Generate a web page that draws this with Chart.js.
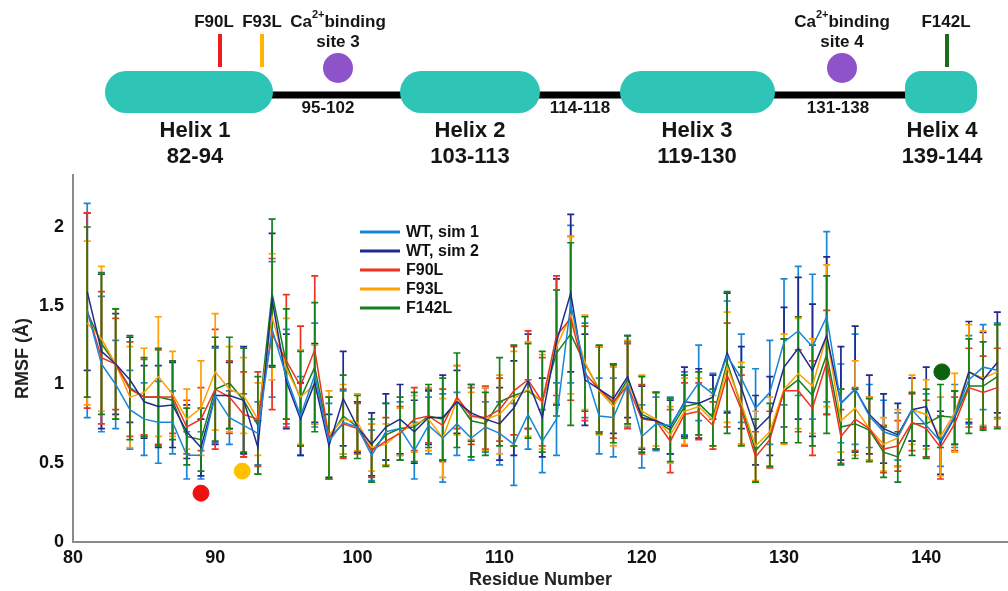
<!DOCTYPE html>
<html>
<head>
<meta charset="utf-8">
<title>RMSF per residue</title>
<script src="https://cdn.jsdelivr.net/npm/chart.js@4.4.1/dist/chart.umd.min.js"></script>
<style>
    html, body { margin: 0; padding: 0; background: #fff; overflow: hidden; }
    #wrap { position: relative; width: 1008px; height: 591px; }
    #wrap canvas { display: block; }
</style>
</head>
<body>
<div id="wrap"><canvas id="rmsf-chart"></canvas></div>
<script>
// residue numbers on the x axis
const residues = [81, 82, 83, 84, 85, 86, 87, 88, 89, 90, 91, 92, 93, 94, 95, 96, 97, 98, 99, 100,
    101, 102, 103, 104, 105, 106, 107, 108, 109, 110, 111, 112, 113, 114, 115, 116, 117, 118, 119, 120,
    121, 122, 123, 124, 125, 126, 127, 128, 129, 130, 131, 132, 133, 134, 135, 136, 137, 138, 139, 140,
    141, 142, 143, 144, 145];

const wtSim1 = [1.47, 1.13, 1.00, 0.84, 0.78, 0.76, 0.76, 0.55, 0.55, 0.93, 0.79, 0.74, 0.69, 1.35, 1.05, 0.80, 1.06, 0.64, 0.76, 0.73,
    0.55, 0.70, 0.72, 0.58, 0.74, 0.66, 0.75, 0.66, 0.73, 0.69, 0.62, 0.81, 0.64, 0.78, 1.51, 1.09, 0.80, 0.79, 1.00, 0.67,
    0.75, 0.74, 0.88, 1.01, 0.94, 1.18, 1.04, 0.85, 0.95, 1.27, 1.34, 1.24, 1.43, 0.88, 0.97, 0.80, 0.70, 0.67, 0.84, 0.74,
    0.64, 0.80, 1.03, 1.11, 1.09];
const wtSim1Err = [0.68, 0.43, 0.28, 0.25, 0.23, 0.26, 0.20, 0.15, 0.15, 0.30, 0.17, 0.20, 0.20, 0.43, 0.30, 0.25, 0.33, 0.24, 0.20, 0.16,
    0.16, 0.18, 0.17, 0.18, 0.18, 0.28, 0.20, 0.14, 0.16, 0.20, 0.26, 0.22, 0.20, 0.23, 0.50, 0.30, 0.24, 0.25, 0.27, 0.20,
    0.17, 0.18, 0.20, 0.24, 0.13, 0.35, 0.28, 0.25, 0.33, 0.40, 0.41, 0.46, 0.54, 0.25, 0.35, 0.20, 0.20, 0.15, 0.20, 0.20,
    0.16, 0.20, 0.28, 0.27, 0.30];

const wtSim2 = [1.59, 1.21, 1.13, 1.03, 0.89, 0.86, 0.87, 0.70, 0.60, 0.93, 0.93, 0.90, 0.60, 1.54, 1.02, 0.78, 1.01, 0.61, 0.91, 0.73,
    0.62, 0.73, 0.78, 0.70, 0.79, 0.79, 0.89, 0.82, 0.78, 0.75, 0.85, 1.02, 0.79, 1.27, 1.58, 1.03, 0.97, 0.91, 1.05, 0.79,
    0.77, 0.73, 0.89, 0.88, 0.92, 1.20, 0.98, 0.71, 0.80, 1.11, 1.23, 1.09, 1.31, 0.88, 0.97, 0.81, 0.72, 0.68, 0.84, 0.86,
    0.63, 0.79, 1.08, 1.03, 1.14];
const wtSim2Err = [0.50, 0.49, 0.32, 0.27, 0.23, 0.26, 0.27, 0.17, 0.18, 0.31, 0.21, 0.34, 0.17, 0.42, 0.30, 0.23, 0.25, 0.20, 0.30, 0.16,
    0.20, 0.21, 0.22, 0.20, 0.17, 0.27, 0.20, 0.18, 0.20, 0.23, 0.30, 0.30, 0.25, 0.40, 0.50, 0.29, 0.27, 0.22, 0.26, 0.20,
    0.18, 0.17, 0.22, 0.22, 0.14, 0.38, 0.26, 0.22, 0.25, 0.38, 0.45, 0.42, 0.50, 0.36, 0.40, 0.25, 0.22, 0.20, 0.20, 0.25,
    0.20, 0.17, 0.32, 0.30, 0.32];

const f90l = [1.47, 1.17, 1.13, 0.97, 0.92, 0.92, 0.92, 0.73, 0.78, 0.97, 0.92, 0.81, 0.78, 1.32, 1.15, 0.99, 1.22, 0.66, 0.75, 0.72,
    0.58, 0.64, 0.69, 0.78, 0.80, 0.74, 0.92, 0.80, 0.79, 0.84, 0.96, 1.03, 0.89, 1.31, 1.42, 1.07, 0.97, 0.89, 0.99, 0.78,
    0.77, 0.64, 0.81, 0.83, 0.74, 1.06, 0.84, 0.54, 0.65, 0.96, 0.96, 0.85, 1.14, 0.67, 0.78, 0.72, 0.59, 0.61, 0.76, 0.72,
    0.60, 0.75, 0.98, 0.95, 0.98];
const f90lErr = [0.62, 0.42, 0.29, 0.30, 0.24, 0.30, 0.23, 0.17, 0.20, 0.38, 0.23, 0.27, 0.30, 0.48, 0.42, 0.38, 0.47, 0.26, 0.22, 0.16,
    0.17, 0.15, 0.17, 0.20, 0.17, 0.23, 0.20, 0.18, 0.20, 0.20, 0.28, 0.31, 0.28, 0.38, 0.52, 0.30, 0.27, 0.23, 0.27, 0.22,
    0.18, 0.20, 0.20, 0.18, 0.15, 0.33, 0.22, 0.16, 0.18, 0.33, 0.26, 0.30, 0.33, 0.17, 0.20, 0.20, 0.15, 0.16, 0.18, 0.18,
    0.20, 0.17, 0.25, 0.23, 0.25];

const f93l = [1.39, 1.29, 1.13, 0.92, 0.95, 1.05, 0.94, 0.78, 0.85, 1.08, 0.97, 0.93, 0.78, 1.43, 1.10, 0.92, 1.00, 0.68, 0.78, 0.76,
    0.60, 0.62, 0.70, 0.75, 0.78, 0.66, 0.90, 0.80, 0.78, 0.81, 0.91, 0.97, 0.89, 1.24, 1.44, 1.14, 0.96, 0.86, 1.01, 0.83,
    0.78, 0.68, 0.83, 0.86, 0.77, 1.11, 0.88, 0.61, 0.70, 0.97, 1.07, 0.99, 1.31, 0.77, 0.85, 0.72, 0.62, 0.66, 0.84, 0.81,
    0.67, 0.82, 1.08, 1.04, 1.08];
const f93lErr = [0.52, 0.46, 0.35, 0.32, 0.28, 0.38, 0.27, 0.19, 0.30, 0.37, 0.27, 0.24, 0.23, 0.40, 0.32, 0.30, 0.25, 0.28, 0.22, 0.18,
    0.15, 0.13, 0.15, 0.18, 0.20, 0.25, 0.22, 0.15, 0.20, 0.25, 0.30, 0.30, 0.30, 0.36, 0.50, 0.30, 0.28, 0.25, 0.27, 0.23,
    0.17, 0.18, 0.21, 0.18, 0.16, 0.35, 0.26, 0.22, 0.22, 0.35, 0.35, 0.30, 0.45, 0.20, 0.30, 0.20, 0.17, 0.18, 0.22, 0.22,
    0.25, 0.25, 0.30, 0.30, 0.30];

const f142l = [1.46, 1.26, 1.13, 0.98, 0.92, 0.92, 0.90, 0.67, 0.65, 0.97, 1.01, 0.90, 0.74, 1.58, 1.13, 0.91, 1.11, 0.66, 0.80, 0.73,
    0.58, 0.68, 0.72, 0.73, 0.80, 0.78, 0.90, 0.77, 0.75, 0.89, 0.93, 0.96, 0.89, 1.20, 1.32, 1.13, 0.97, 0.88, 1.03, 0.81,
    0.77, 0.71, 0.86, 0.88, 0.79, 1.14, 0.86, 0.58, 0.68, 0.96, 1.03, 0.93, 1.19, 0.73, 0.75, 0.71, 0.57, 0.54, 0.75, 0.75,
    0.80, 0.79, 0.99, 0.99, 1.05];
const f142lErr = [0.54, 0.45, 0.35, 0.33, 0.25, 0.31, 0.25, 0.18, 0.20, 0.33, 0.29, 0.33, 0.31, 0.47, 0.35, 0.30, 0.41, 0.26, 0.26, 0.20,
    0.20, 0.20, 0.20, 0.22, 0.20, 0.26, 0.30, 0.23, 0.20, 0.28, 0.32, 0.30, 0.32, 0.40, 0.58, 0.30, 0.28, 0.25, 0.28, 0.24,
    0.18, 0.20, 0.20, 0.20, 0.18, 0.45, 0.25, 0.20, 0.20, 0.33, 0.40, 0.32, 0.50, 0.24, 0.22, 0.20, 0.16, 0.16, 0.20, 0.22,
    0.20, 0.17, 0.30, 0.28, 0.33];

// mutation site markers drawn inside the plot
const markerResidues = [89.0, 91.9, 141.1];
const markerRmsf = [0.31, 0.45, 1.08];

const xTickValues = [80, 90, 100, 110, 120, 130, 140];
const yTickValues = [0, 0.5, 1, 1.5, 2];

const FONT = '"Liberation Sans", Arial, sans-serif';

class RmsfChart {
    constructor(canvasId) {
        this.canvas = document.getElementById(canvasId);
        this.chart = null;
        this.init();
    }

    init() {
        const series = [
            { label: 'WT, sim 1', values: wtSim1, errors: wtSim1Err, color: '#1a86d8' },
            { label: 'WT, sim 2', values: wtSim2, errors: wtSim2Err, color: '#1f2a8f' },
            { label: 'F90L', values: f90l, errors: f90lErr, color: '#f0321e' },
            { label: 'F93L', values: f93l, errors: f93lErr, color: '#ffa000' },
            { label: 'F142L', values: f142l, errors: f142lErr, color: '#14801c' }
        ];

        const lineSets = series.map(s => ({
            type: 'line',
            label: s.label,
            data: residues.map((r, i) => ({ x: r, y: s.values[i] })),
            errors: s.errors,
            borderColor: s.color,
            backgroundColor: s.color,
            borderWidth: 1.5,
            pointRadius: 0,
            tension: 0,
            inLegend: true
        }));

        const markerColors = ['#ee1111', '#ffc000', '#0d630d'];
        const markerSet = {
            type: 'scatter',
            label: 'sites',
            data: markerResidues.map((r, i) => ({ x: r, y: markerRmsf[i] })),
            pointRadius: 8,
            pointBackgroundColor: markerColors,
            pointBorderColor: markerColors,
            showLine: false
        };

        this.chart = new Chart(this.canvas.getContext('2d'), {
            data: { datasets: [...lineSets, markerSet] },
            options: {
                responsive: true,
                maintainAspectRatio: false,
                animation: false,
                layout: {
                    autoPadding: false,
                    padding: { top: 175, left: 0, right: 0, bottom: 0 }
                },
                plugins: {
                    legend: { display: false },
                    tooltip: { enabled: false }
                },
                scales: {
                    x: {
                        type: 'linear',
                        min: 80,
                        max: 145.75,
                        grid: { display: false, drawTicks: false },
                        border: { display: true, color: '#8a8a8a', width: 2 },
                        afterBuildTicks: scale => { scale.ticks = xTickValues.map(v => ({ value: v })); },
                        afterFit: scale => {
                            scale.height = 49;
                            scale.paddingLeft = 0;
                            scale.paddingRight = 0;
                        },
                        ticks: {
                            color: '#111',
                            padding: 5,
                            maxRotation: 0,
                            callback: v => `${v}`,
                            font: { family: FONT, size: 18, weight: 'bold' }
                        },
                        title: {
                            display: true,
                            text: 'Residue Number',
                            color: '#222',
                            padding: { top: 0, bottom: 0 },
                            font: { family: FONT, size: 18, weight: 'bold' }
                        }
                    },
                    y: {
                        min: 0,
                        max: 2.33,
                        grid: { display: false, drawTicks: false },
                        border: { display: true, color: '#8a8a8a', width: 2 },
                        afterBuildTicks: scale => { scale.ticks = yTickValues.map(v => ({ value: v })); },
                        afterFit: scale => {
                            scale.width = 73;
                            scale.paddingTop = 0;
                            scale.paddingBottom = 0;
                        },
                        ticks: {
                            color: '#111',
                            padding: 9,
                            callback: v => `${v}`,
                            font: { family: FONT, size: 18, weight: 'bold' }
                        },
                        title: {
                            display: true,
                            text: 'RMSF (\u00C5)',
                            color: '#222',
                            padding: { top: 12, bottom: 0 },
                            font: { family: FONT, size: 18, weight: 'bold' }
                        }
                    }
                }
            },
            plugins: [this.errorBarPlugin(), this.legendPlugin(), this.schematicPlugin()]
        });
    }

    errorBarPlugin() {
        return {
            id: 'errorBars',
            beforeDatasetsDraw(chart) {
                const { ctx, scales: { x, y } } = chart;
                ctx.save();
                ctx.lineWidth = 1.7;
                chart.data.datasets.forEach(ds => {
                    if (!ds.errors) return;
                    ctx.strokeStyle = ds.borderColor;
                    ds.data.forEach((p, i) => {
                        const px = x.getPixelForValue(p.x);
                        const top = y.getPixelForValue(p.y + ds.errors[i]);
                        const bot = y.getPixelForValue(p.y - ds.errors[i]);
                        ctx.beginPath();
                        ctx.moveTo(px, top);
                        ctx.lineTo(px, bot);
                        ctx.moveTo(px - 3.5, top);
                        ctx.lineTo(px + 3.5, top);
                        ctx.moveTo(px - 3.5, bot);
                        ctx.lineTo(px + 3.5, bot);
                        ctx.stroke();
                    });
                });
                ctx.restore();
            }
        };
    }

    legendPlugin() {
        return {
            id: 'insideLegend',
            afterDraw(chart) {
                const ctx = chart.ctx;
                ctx.save();
                ctx.font = `bold 16px ${FONT}`;
                ctx.textBaseline = 'middle';
                let row = 0;
                chart.data.datasets.forEach(ds => {
                    if (!ds.inLegend) return;
                    const yy = 232 + row * 19;
                    ctx.strokeStyle = ds.borderColor;
                    ctx.lineWidth = 3;
                    ctx.beginPath();
                    ctx.moveTo(360, yy);
                    ctx.lineTo(400, yy);
                    ctx.stroke();
                    ctx.fillStyle = '#111';
                    ctx.fillText(ds.label, 406, yy + 1);
                    row++;
                });
                ctx.restore();
            }
        };
    }

    schematicPlugin() {
        const helices = [
            { x1: 105, x2: 273, cx: 195, name: 'Helix 1', range: '82-94' },
            { x1: 400, x2: 540, cx: 470, name: 'Helix 2', range: '103-113' },
            { x1: 620, x2: 775, cx: 697, name: 'Helix 3', range: '119-130' },
            { x1: 905, x2: 977, cx: 942, name: 'Helix 4', range: '139-144', r: 16 }
        ];
        const loops = [
            { cx: 328, text: '95-102' },
            { cx: 580, text: '114-118' },
            { cx: 838, text: '131-138' }
        ];
        const mutations = [
            { x: 220, tx: 214, label: 'F90L', color: '#ee1c1c' },
            { x: 262, tx: 262, label: 'F93L', color: '#ffb400' },
            { x: 947, tx: 946, label: 'F142L', color: '#1a6b1a' }
        ];
        const sites = [
            { cx: 338, label: 'site 3' },
            { cx: 842, label: 'site 4' }
        ];

        return {
            id: 'schematic',
            afterDraw(chart) {
                const ctx = chart.ctx;
                ctx.save();

                // backbone
                ctx.fillStyle = '#000';
                ctx.fillRect(230, 91.5, 700, 7);

                // helices
                ctx.fillStyle = '#2ec4b6';
                helices.forEach(h => {
                    ctx.beginPath();
                    ctx.roundRect(h.x1, 71, h.x2 - h.x1, 42, h.r || 21);
                    ctx.fill();
                });

                ctx.fillStyle = '#151515';
                ctx.textAlign = 'center';
                ctx.textBaseline = 'middle';
                ctx.font = `bold 22px ${FONT}`;
                helices.forEach(h => {
                    ctx.fillText(h.name, h.cx, 131);
                    ctx.fillText(h.range, h.cx, 157);
                });

                ctx.font = `bold 17px ${FONT}`;
                loops.forEach(l => ctx.fillText(l.text, l.cx, 108));

                mutations.forEach(m => {
                    ctx.fillStyle = '#151515';
                    ctx.fillText(m.label, m.tx, 22);
                    ctx.fillStyle = m.color;
                    ctx.fillRect(m.x - 2, 34, 4, 33);
                });

                sites.forEach(s => {
                    ctx.fillStyle = '#8e52c9';
                    ctx.beginPath();
                    ctx.arc(s.cx, 68, 15, 0, Math.PI * 2);
                    ctx.fill();

                    ctx.fillStyle = '#151515';
                    ctx.font = `bold 17px ${FONT}`;
                    ctx.textAlign = 'left';
                    const w1 = ctx.measureText('Ca').width;
                    ctx.font = `bold 11px ${FONT}`;
                    const w2 = ctx.measureText('2+').width;
                    ctx.font = `bold 17px ${FONT}`;
                    const w3 = ctx.measureText('binding').width;
                    const x0 = s.cx - (w1 + w2 + w3) / 2;
                    ctx.fillText('Ca', x0, 22);
                    ctx.font = `bold 11px ${FONT}`;
                    ctx.fillText('2+', x0 + w1, 15);
                    ctx.font = `bold 17px ${FONT}`;
                    ctx.fillText('binding', x0 + w1 + w2, 22);
                    ctx.textAlign = 'center';
                    ctx.fillText(s.label, s.cx, 42);
                });

                ctx.restore();
            }
        };
    }
}

document.addEventListener('DOMContentLoaded', () => {
    new RmsfChart('rmsf-chart');
});
</script>
</body>
</html>
